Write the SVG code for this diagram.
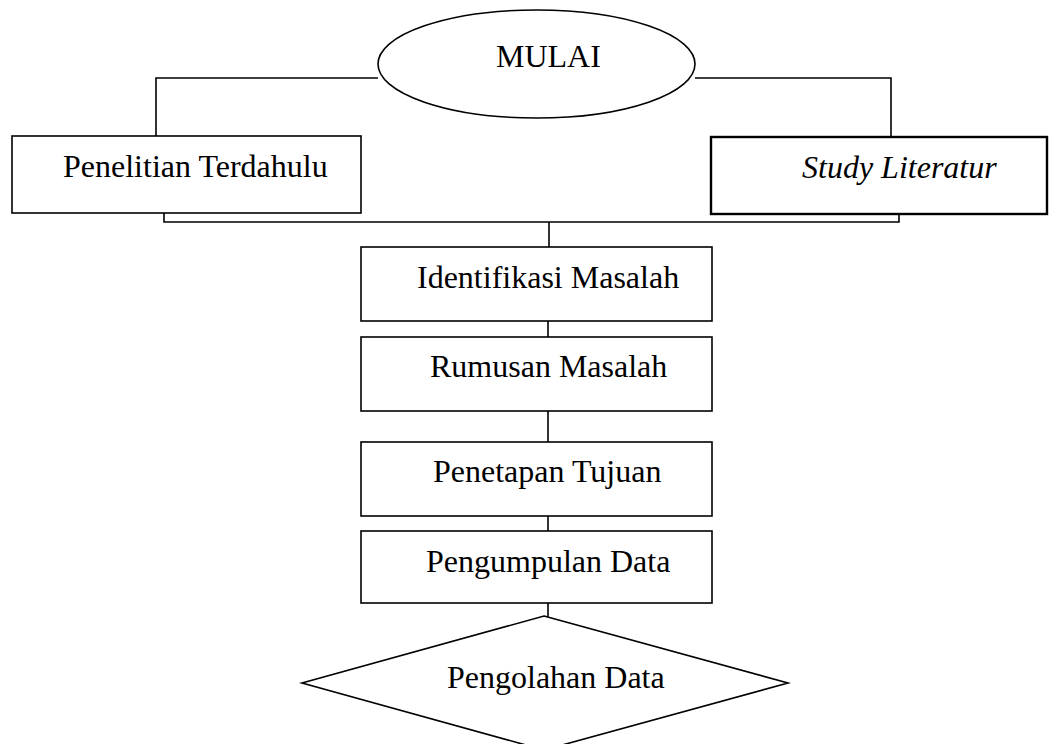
<svg xmlns="http://www.w3.org/2000/svg" width="1049" height="744" viewBox="0 0 1049 744">
<style>
.s{fill:#fff;stroke:#000;stroke-width:1.6}
.c{fill:none;stroke:#000;stroke-width:1.6}
text{font-family:"Liberation Serif","Times New Roman",serif;font-size:32px;fill:#000}
</style>
<rect width="1049" height="744" fill="#fff"/>
<g id="connectors">
<polyline class="c" points="378,78 156,78 156,136"/>
<polyline class="c" points="695,78 891,78 891,137"/>
<polyline class="c" points="164,213 164,222 899,222 899,214"/>
<line class="c" x1="549" y1="222" x2="549" y2="247"/>
<line class="c" x1="548" y1="321" x2="548" y2="337"/>
<line class="c" x1="548" y1="411" x2="548" y2="442"/>
<line class="c" x1="548" y1="516" x2="548" y2="531"/>
<line class="c" x1="548" y1="603" x2="548" y2="617"/>
</g>
<g id="mulai">
<ellipse class="s" cx="536.5" cy="64" rx="158.5" ry="54"/>
<text x="496" y="67">MULAI</text>
</g>
<g id="penelitian">
<rect class="s" x="12" y="136" width="349" height="77"/>
<text x="63" y="177">Penelitian Terdahulu</text>
</g>
<g id="study">
<rect class="s" x="711" y="137" width="336" height="77" style="stroke-width:2.4"/>
<text x="802" y="178" font-style="italic">Study Literatur</text>
</g>
<g id="identifikasi">
<rect class="s" x="361" y="247" width="351" height="74"/>
<text x="417" y="288">Identifikasi Masalah</text>
</g>
<g id="rumusan">
<rect class="s" x="361" y="337" width="351" height="74"/>
<text x="430" y="377">Rumusan Masalah</text>
</g>
<g id="penetapan">
<rect class="s" x="361" y="442" width="351" height="74"/>
<text x="433" y="482">Penetapan Tujuan</text>
</g>
<g id="pengumpulan">
<rect class="s" x="361" y="531" width="351" height="72"/>
<text x="426" y="572">Pengumpulan Data</text>
</g>
<g id="pengolahan">
<polygon class="s" points="544,616 788,683 544,750 302,683"/>
<text x="447" y="688">Pengolahan Data</text>
</g>
</svg>
